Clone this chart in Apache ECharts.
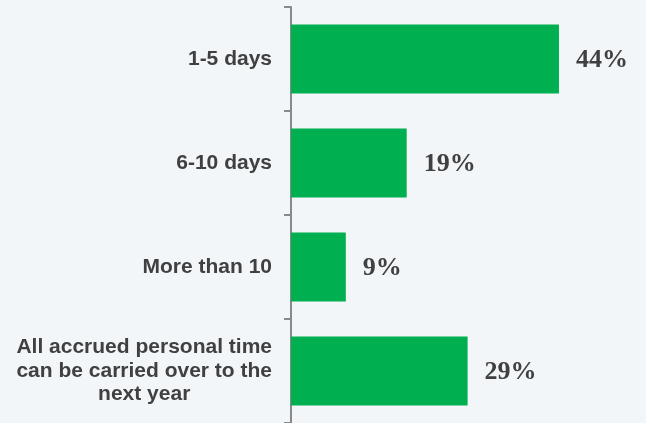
<!DOCTYPE html>
<html>
<head>
<meta charset="utf-8">
<script src="https://cdn.jsdelivr.net/npm/echarts@6/dist/echarts.min.js"></script>
<style>
  html, body { margin: 0; padding: 0; background: #f2f6f9; }
  #chart { width: 646px; height: 423px; }
</style>
</head>
<body>
<div id="chart"></div>
<script>
// Carry-over allowance categories (top to bottom) and share of respondents (%)
const categories = [
  '1-5 days',
  '6-10 days',
  'More than 10',
  'All accrued personal time\ncan be carried over to the\nnext year'
];
const shares = [44, 19, 9, 29];

const chart = echarts.init(document.getElementById('chart'));

chart.setOption({
  backgroundColor: '#f2f6f9',
  animation: false,
  grid: { left: 291, top: 7, width: 304.5, height: 416, containLabel: false },
  xAxis: {
    type: 'value',
    min: 0,
    max: 50,
    show: false
  },
  yAxis: {
    type: 'category',
    data: categories,
    inverse: true,
    axisLine: { show: true, lineStyle: { color: '#898989', width: 2 } },
    axisTick: { show: true, length: 7, lineStyle: { color: '#898989', width: 2 } },
    axisLabel: {
      margin: 19,
      formatter: v => '{c|' + v + '}',
      rich: {
        c: {
          align: 'center',
          fontFamily: '"Liberation Sans", Arial, sans-serif',
          fontWeight: 'bold',
          fontSize: 21,
          lineHeight: 23.5,
          color: '#404040'
        }
      }
    },
    splitLine: { show: false }
  },
  series: [{
    type: 'bar',
    data: shares,
    barWidth: 69,
    itemStyle: { color: '#00b050' },
    label: {
      show: true,
      position: 'right',
      distance: 17,
      offset: [0, 1],
      formatter: p => p.value + '%',
      fontFamily: '"Liberation Serif", "Times New Roman", serif',
      fontWeight: 'bold',
      fontSize: 26,
      color: '#404040'
    }
  }]
});
</script>
</body>
</html>
